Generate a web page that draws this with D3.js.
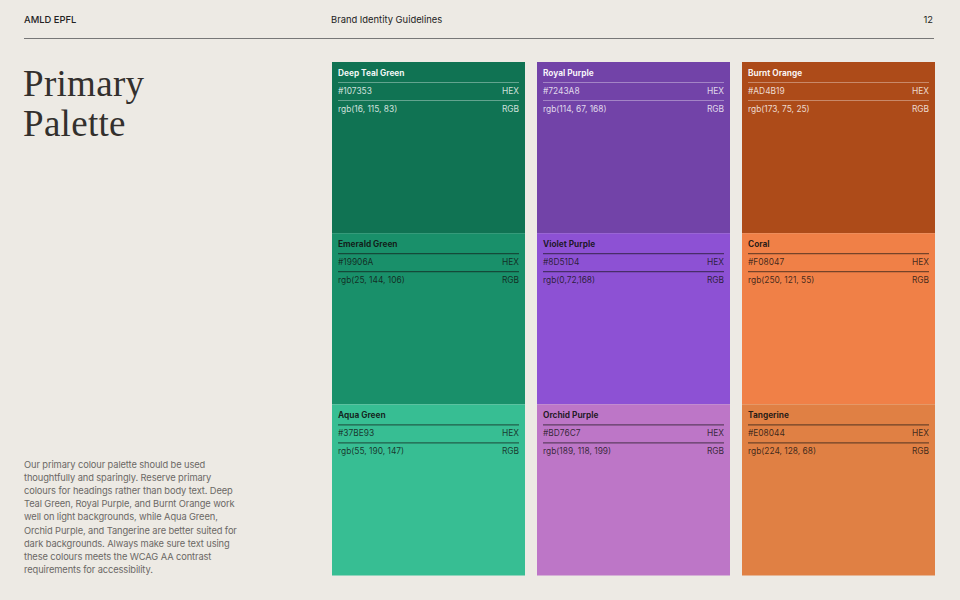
<!DOCTYPE html>
<html>
<head>
<meta charset="utf-8">
<script src="https://cdn.jsdelivr.net/npm/d3@7"></script>
<style>
  html, body { margin: 0; padding: 0; background: #edeae4; }
  svg { display: block; }
</style>
</head>
<body>
<div class="graph"></div>
<script>
// palette, read row by row (three tints per family)
var families = ['Green', 'Purple', 'Orange'];
var tints = ['primary', 'mid', 'light'];

var names = [
  'Deep Teal Green', 'Royal Purple', 'Burnt Orange',
  'Emerald Green', 'Violet Purple', 'Coral',
  'Aqua Green', 'Orchid Purple', 'Tangerine'
];
var hexes = [
  '#107353', '#7243A8', '#AD4B19',
  '#19906A', '#8D51D4', '#F08047',
  '#37BE93', '#BD76C7', '#E08044'
];
var rgbLabels = [
  'rgb(16, 115, 83)', 'rgb(114, 67, 168)', 'rgb(173, 75, 25)',
  'rgb(25, 144, 106)', 'rgb(0,72,168)', 'rgb(250, 121, 55)',
  'rgb(55, 190, 147)', 'rgb(189, 118, 199)', 'rgb(224, 128, 68)'
];

var bodyLines = [
  'Our primary colour palette should be used',
  'thoughtfully and sparingly. Reserve primary',
  'colours for headings rather than body text. Deep',
  'Teal Green, Royal Purple, and Burnt Orange work',
  'well on light backgrounds, while Aqua Green,',
  'Orchid Purple, and Tangerine are better suited for',
  'dark backgrounds. Always make sure text using',
  'these colours meets the WCAG AA contrast',
  'requirements for accessibility.'
];

var width = 960, height = 600;
var sans = 'Inter, "Liberation Sans", sans-serif';

var svg = d3.select('.graph').append('svg')
    .attr('width', width)
    .attr('height', height);

svg.append('rect')
    .attr('width', width).attr('height', height)
    .attr('fill', '#edeae4');

// header
var header = svg.append('g').style('font-family', sans).style('font-size', '9.4px').attr('fill', '#222');
header.append('text').attr('x', 24).attr('y', 23).style('font-weight', 500).text('AMLD EPFL');
header.append('text').attr('x', 331).attr('y', 23).text('Brand Identity Guidelines');
header.append('text').attr('x', 933).attr('y', 23).attr('text-anchor', 'end').text('12');
svg.append('line')
    .attr('x1', 24).attr('x2', 934).attr('y1', 38.5).attr('y2', 38.5)
    .attr('stroke', '#777').attr('stroke-width', 1);

// title
svg.append('text')
    .attr('x', 23).attr('y', 96)
    .style('font-family', '"Liberation Serif", serif')
    .style('font-size', '37px')
    .style('letter-spacing', '0.3px')
    .attr('fill', '#33302d')
    .selectAll('tspan')
    .data(['Primary', 'Palette'])
    .enter().append('tspan')
      .attr('x', 23)
      .attr('dy', function (d, i) { return i ? 40 : 0; })
      .text(function (d) { return d; });

// body copy
svg.append('text')
    .attr('x', 24).attr('y', 467.5)
    .style('font-family', sans)
    .style('font-size', '9.3px')
    .style('letter-spacing', '-0.1px')
    .attr('fill', '#6b6864')
    .selectAll('tspan')
    .data(bodyLines)
    .enter().append('tspan')
      .attr('x', 24)
      .attr('dy', function (d, i) { return i ? 13.2 : 0; })
      .text(function (d) { return d; });

// swatch grid
var x = d3.scaleBand().domain(families).range([332, 935]).paddingInner(12 / 205).paddingOuter(0);
var y = d3.scaleBand().domain(tints).range([62, 575.5]).padding(0);

var cells = names.map(function (name, i) {
  return {
    name: name,
    hex: hexes[i],
    rgb: rgbLabels[i],
    family: families[i % 3],
    tint: tints[Math.floor(i / 3)]
  };
});

var bw = x.bandwidth();

var cell = svg.selectAll('g.cell')
  .data(cells)
  .enter().append('g')
    .attr('class', 'cell')
    .attr('transform', function (d) { return 'translate(' + x(d.family) + ',' + y(d.tint) + ')'; });

cell.append('rect')
    .attr('width', bw)
    .attr('height', y.bandwidth())
    .attr('fill', function (d) { return d.hex; });

function ink(d) { return d.tint === 'primary' ? '#ffffff' : '#111111'; }

cell.append('text')
    .attr('x', 6).attr('y', 14)
    .style('font-family', sans).style('font-size', '8.3px').style('font-weight', 700)
    .attr('fill', ink).attr('fill-opacity', function (d) { return d.tint === 'primary' ? 0.95 : 0.9; })
    .text(function (d) { return d.name; });

[20.5, 38.5].forEach(function (ly) {
  cell.append('line')
      .attr('x1', 6).attr('x2', bw - 6).attr('y1', ly).attr('y2', ly)
      .attr('stroke', ink)
      .attr('stroke-opacity', function (d) { return d.tint === 'primary' ? 0.35 : 0.55; })
      .attr('stroke-width', 1.2);
});

var rows = [
  { y: 32, left: function (d) { return d.hex; }, right: 'HEX' },
  { y: 50, left: function (d) { return d.rgb; }, right: 'RGB' }
];

rows.forEach(function (r) {
  cell.append('text')
      .attr('x', 6).attr('y', r.y)
      .style('font-family', sans).style('font-size', '8.4px')
      .attr('fill', ink).attr('fill-opacity', 0.8)
      .text(r.left);
  cell.append('text')
      .attr('x', bw - 6).attr('y', r.y).attr('text-anchor', 'end')
      .style('font-family', sans).style('font-size', '8.4px')
      .attr('fill', ink).attr('fill-opacity', 0.8)
      .text(r.right);
});
</script>
</body>
</html>
